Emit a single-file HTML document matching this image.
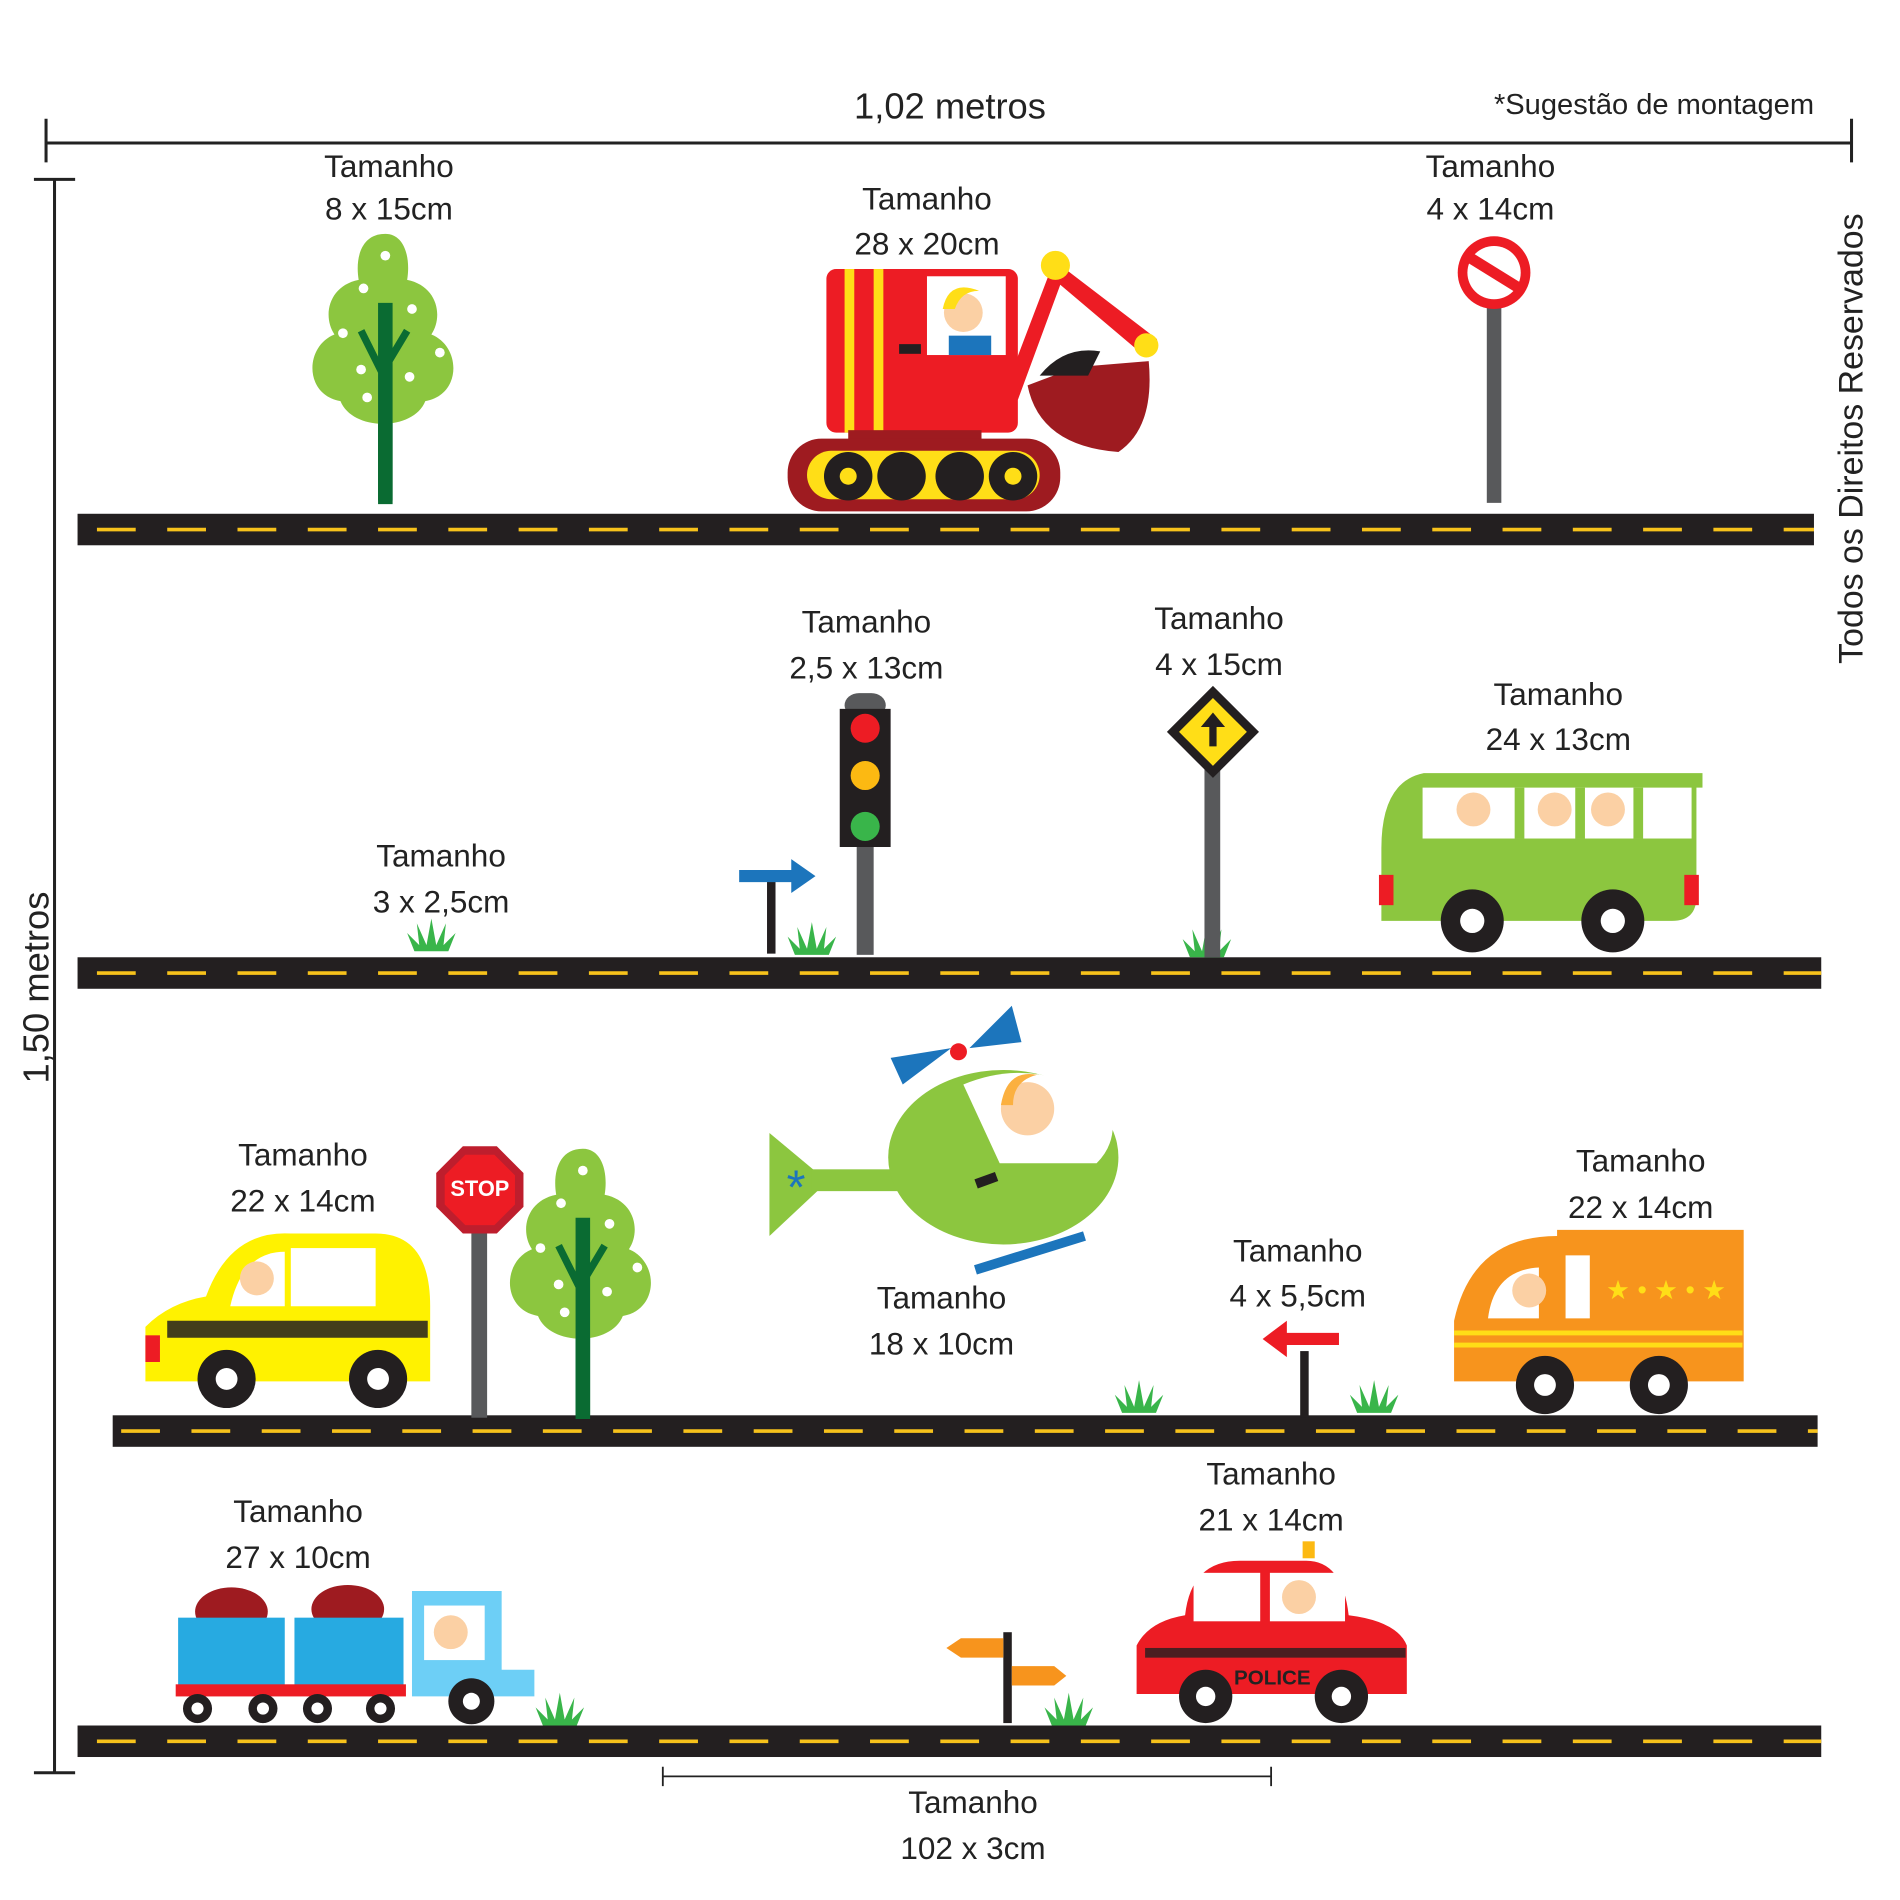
<!DOCTYPE html>
<html><head><meta charset="utf-8"><style>html,body{margin:0;padding:0;background:#fff}svg{display:block}text{font-family:"Liberation Sans",sans-serif;fill:#222}</style></head><body>
<svg width="1900" height="1900" viewBox="0 0 1568 1568" xmlns="http://www.w3.org/2000/svg">
<defs>
<g id="tree"><rect x="-6" y="60" width="12" height="160" fill="#0a6b32"/><path d="M0 0c-20 0-25 20-22 38c-25 5-30 30-20 45c-25 10-25 50 5 55c10 25 60 25 70 0c30-5 30-45 5-55c10-15 5-40-20-45c3-18-2-38-18-38z" fill="#8cc63f"/><path d="M-3 60v160h6v-160z M0 120l-20-40 M0 110l18-30" stroke="#0a6b32" stroke-width="6" fill="none"/><g fill="#fff"><circle cx="0" cy="18" r="4"/><circle cx="-18" cy="45" r="4"/><circle cx="22" cy="62" r="4"/><circle cx="-35" cy="82" r="4"/><circle cx="45" cy="98" r="4"/><circle cx="-20" cy="112" r="4"/><circle cx="20" cy="118" r="4"/><circle cx="-15" cy="135" r="4"/></g></g>
<g id="grass"><path d="M-18 0l-6-15l10 10l-2-18l8 18l4-22l4 22l8-18l-2 18l10-10l-6 15z" fill="#39b54a"/></g>
</defs>
<g stroke="#222" stroke-width="2.5" fill="none">
<path d="M38 118H1528M38 98V134M1528 98V134"/>
<path d="M45 148V1463M28 148H62M28 1463H62"/>
<path d="M547 1466H1049M547 1458V1474M1049 1458V1474" stroke-width="1.5"/>
</g>
<text x="784" y="98" font-size="30" text-anchor="middle">1,02 metros</text>
<text x="1365" y="94" font-size="24" text-anchor="middle">*Sugestão de montagem</text>
<text transform="translate(40 815) rotate(-90)" font-size="30" text-anchor="middle">1,50 metros</text>
<text transform="translate(1537 362) rotate(-90)" font-size="28" text-anchor="middle">Todos os Direitos Reservados</text>
<g>
<rect x="64" y="424" width="1433" height="26" fill="#231f20"/>
<rect x="64" y="790" width="1439" height="26" fill="#231f20"/>
<rect x="93" y="1168" width="1407" height="26" fill="#231f20"/>
<rect x="64" y="1424" width="1439" height="26" fill="#231f20"/>
<g stroke="#f7c21b" stroke-width="3" stroke-dasharray="32 26">
<path d="M80 437H1497"/><path d="M80 803H1503"/><path d="M100 1181H1500"/><path d="M80 1437H1503"/>
</g></g>
<g font-size="26" text-anchor="middle">
<text x="321" y="146">Tamanho</text><text x="321" y="181">8 x 15cm</text>
<text x="765" y="173">Tamanho</text><text x="765" y="210">28 x 20cm</text>
<text x="1230" y="146">Tamanho</text><text x="1230" y="181">4 x 14cm</text>
<text x="715" y="522">Tamanho</text><text x="715" y="560">2,5 x 13cm</text>
<text x="1006" y="519">Tamanho</text><text x="1006" y="557">4 x 15cm</text>
<text x="1286" y="582">Tamanho</text><text x="1286" y="619">24 x 13cm</text>
<text x="364" y="715">Tamanho</text><text x="364" y="753">3 x 2,5cm</text>
<text x="250" y="962">Tamanho</text><text x="250" y="1000">22 x 14cm</text>
<text x="1354" y="967">Tamanho</text><text x="1354" y="1005">22 x 14cm</text>
<text x="1071" y="1041">Tamanho</text><text x="1071" y="1078">4 x 5,5cm</text>
<text x="777" y="1080">Tamanho</text><text x="777" y="1118">18 x 10cm</text>
<text x="246" y="1256">Tamanho</text><text x="246" y="1294">27 x 10cm</text>
<text x="1049" y="1225">Tamanho</text><text x="1049" y="1263">21 x 14cm</text>
<text x="803" y="1496">Tamanho</text><text x="803" y="1534">102 x 3cm</text>
</g>
<use href="#tree" x="318" y="193"/>
<g>
<path d="M830 320L870 215L955 280L940 290L875 235L840 330z" fill="#ed1c24"/>
<path d="M848 318q10 50 75 55q30-20 25-75l-60 5z" fill="#9e1b20"/>
<path d="M858 310q20-25 50-20l-10 20z" fill="#231f20"/>
<circle cx="871" cy="219" r="12" fill="#ffde17"/><circle cx="946" cy="285" r="10" fill="#ffde17"/>
<rect x="682" y="222" width="158" height="135" rx="8" fill="#ed1c24"/>
<rect x="697" y="222" width="8" height="135" fill="#ffde17"/><rect x="721" y="222" width="8" height="135" fill="#ffde17"/>
<rect x="765" y="228" width="65" height="65" fill="#fff"/>
<circle cx="795" cy="258" r="16" fill="#fbd0a4"/><path d="M778 255q5-25 30-15q-15 0-20 15z" fill="#ffde17"/><rect x="783" y="277" width="35" height="16" fill="#1c75bc"/>
<rect x="742" y="284" width="18" height="8" fill="#231f20"/>
<rect x="700" y="355" width="110" height="12" fill="#9e1b20"/>
<rect x="650" y="362" width="225" height="60" rx="28" fill="#9e1b20"/>
<rect x="666" y="372" width="192" height="40" rx="20" fill="#ffde17"/>
<g fill="#231f20"><circle cx="700" cy="393" r="20"/><circle cx="744" cy="393" r="20"/><circle cx="792" cy="393" r="20"/><circle cx="836" cy="393" r="20"/></g>
<circle cx="700" cy="393" r="7" fill="#ffde17"/><circle cx="836" cy="393" r="7" fill="#ffde17"/>
</g>
<rect x="1227" y="245" width="12" height="170" fill="#58595b"/>
<circle cx="1233" cy="225" r="30" fill="#ed1c24"/><circle cx="1233" cy="225" r="22" fill="#fff"/>
<path d="M1212 212L1254 238" stroke="#ed1c24" stroke-width="9"/>
<rect x="707" y="690" width="14" height="98" fill="#58595b"/>
<rect x="697" y="572" width="34" height="20" rx="12" fill="#58595b"/>
<rect x="693" y="585" width="42" height="114" fill="#231f20"/>
<circle cx="714" cy="601" r="12" fill="#ed1c24"/><circle cx="714" cy="640" r="12" fill="#fcb912"/><circle cx="714" cy="682" r="12" fill="#39b54a"/>
<rect x="633" y="725" width="7" height="62" fill="#231f20"/>
<path d="M610 718h43v-9l20 14l-20 14v-9h-43z" fill="#1c75bc"/>
<use href="#grass" x="674" y="788"/><use href="#grass" x="360" y="785"/><use href="#grass" x="1000" y="790"/>
<rect x="994" y="630" width="13" height="160" fill="#58595b"/>
<path d="M1001 566l38 38l-38 38l-38-38z" fill="#231f20"/><path d="M1001 576l28 28l-28 28l-28-28z" fill="#ffde17"/>
<path d="M1001 588l-10 12h7v16h6v-16h7z" fill="#231f20"/>
<path d="M1140 700q0-55 35-62h230v12h-5v90q0 20-20 20h-240z" fill="#8cc63f"/>
<rect x="1174" y="650" width="222" height="42" fill="#fff"/>
<g fill="#8cc63f"><rect x="1250" y="650" width="8" height="42"/><rect x="1300" y="650" width="8" height="42"/><rect x="1348" y="650" width="8" height="42"/></g>
<circle cx="1216" cy="668" r="14" fill="#fbd0a4"/><circle cx="1283" cy="668" r="14" fill="#fbd0a4"/><circle cx="1327" cy="668" r="14" fill="#fbd0a4"/>
<rect x="1138" y="722" width="12" height="25" fill="#ed1c24"/><rect x="1390" y="722" width="12" height="25" fill="#ed1c24"/>
<circle cx="1215" cy="760" r="26" fill="#231f20"/><circle cx="1215" cy="760" r="10" fill="#fff"/>
<circle cx="1331" cy="760" r="26" fill="#231f20"/><circle cx="1331" cy="760" r="10" fill="#fff"/>
<path d="M120 1140v-45q20-20 50-25q20-55 70-52h70q45 0 45 60v62z" fill="#fff200"/>
<path d="M190 1078q10-45 45-45v45z" fill="#fff"/><rect x="240" y="1030" width="70" height="48" fill="#fff"/>
<circle cx="212" cy="1055" r="14" fill="#fbd0a4"/>
<path d="M138 1090h215v14h-215z" fill="#231f20" opacity=".85"/>
<rect x="120" y="1102" width="12" height="22" fill="#ed1c24"/>
<circle cx="187" cy="1138" r="24" fill="#231f20"/><circle cx="187" cy="1138" r="9" fill="#fff"/>
<circle cx="312" cy="1138" r="24" fill="#231f20"/><circle cx="312" cy="1138" r="9" fill="#fff"/>
<rect x="389" y="1005" width="13" height="165" fill="#58595b"/>
<path d="M382 946h28l22 22v28l-22 22h-28l-22-22v-28z" fill="#be1e2d"/>
<path d="M384 953h24l17 17v24l-17 17h-24l-17-17v-24z" fill="#ed1c24"/>
<text x="396" y="987" font-size="18" font-weight="bold" text-anchor="middle" style="fill:#fff">STOP</text>
<use href="#tree" x="481" y="948"/>
<path d="M635 935l48 40l-48 45z" fill="#8cc63f"/><rect x="670" y="965" width="80" height="18" fill="#8cc63f"/>
<text x="657" y="993" font-size="40" style="fill:#1c75bc" text-anchor="middle">*</text>
<ellipse cx="828" cy="955" rx="95" ry="72" fill="#8cc63f"/>
<path d="M795 895q60-25 120 15q10 30-10 50h-80z" fill="#fff"/>
<circle cx="848" cy="915" r="22" fill="#fbd0a4"/><path d="M826 912q5-30 30-25q-20 5-20 25z" fill="#fbb040"/>
<path d="M735 873l50-8l-40 30z M800 865l35-35l8 30z" fill="#1c75bc"/><circle cx="791" cy="868" r="7" fill="#ed1c24"/>
<rect x="805" y="970" width="18" height="8" fill="#231f20" transform="rotate(-20 814 974)"/>
<path d="M805 1048l90-28" stroke="#1c75bc" stroke-width="8"/>
<rect x="1073" y="1115" width="7" height="55" fill="#231f20"/>
<path d="M1105 1100h-43v-10l-20 15l20 15v-10h43z" fill="#ed1c24"/>
<use href="#grass" x="944" y="1166"/><use href="#grass" x="1138" y="1166"/>
<path d="M1200 1140v-50q15-70 85-70v-5h154v125q0 0-10 0z" fill="#f7941d"/>
<path d="M1228 1088q5-40 42-42v42z" fill="#fff"/><rect x="1292" y="1036" width="20" height="52" fill="#fff"/>
<circle cx="1262" cy="1065" r="14" fill="#fbd0a4"/>
<path d="M1200 1100h238M1200 1110h238" stroke="#ffde17" stroke-width="4"/>
<text x="1375" y="1072" font-size="22" style="fill:#ffde17" text-anchor="middle">★ • ★ • ★</text>
<circle cx="1275" cy="1143" r="24" fill="#231f20"/><circle cx="1275" cy="1143" r="9" fill="#fff"/>
<circle cx="1369" cy="1143" r="24" fill="#231f20"/><circle cx="1369" cy="1143" r="9" fill="#fff"/>
<g>
<ellipse cx="191" cy="1330" rx="30" ry="20" fill="#9e1b20"/><ellipse cx="287" cy="1328" rx="30" ry="20" fill="#9e1b20"/>
<rect x="147" y="1335" width="88" height="58" fill="#27aae1"/><rect x="243" y="1335" width="90" height="58" fill="#27aae1"/>
<rect x="145" y="1390" width="190" height="10" fill="#ed1c24"/>
<path d="M340 1400v-87h74v65h27v22z" fill="#6dcff6"/>
<rect x="350" y="1325" width="50" height="45" fill="#fff"/><circle cx="372" cy="1347" r="14" fill="#fbd0a4"/>
<g fill="#231f20"><circle cx="163" cy="1410" r="12"/><circle cx="217" cy="1410" r="12"/><circle cx="262" cy="1410" r="12"/><circle cx="314" cy="1410" r="12"/><circle cx="389" cy="1404" r="19"/></g>
<g fill="#fff"><circle cx="163" cy="1410" r="5"/><circle cx="217" cy="1410" r="5"/><circle cx="262" cy="1410" r="5"/><circle cx="314" cy="1410" r="5"/><circle cx="389" cy="1404" r="7"/></g>
</g>
<use href="#grass" x="466" y="1424"/><use href="#grass" x="886" y="1424"/>
<rect x="828" y="1347" width="7" height="75" fill="#231f20"/>
<path d="M828 1352h-35l-12 8l12 8h35z M835 1375h35l10 8l-10 8h-35z" fill="#f7941d"/>
<path d="M938 1398v-40q10-20 40-25q5-45 45-45h55q30 0 35 45q40 5 48 25v40z" fill="#ed1c24"/>
<rect x="985" y="1298" width="55" height="40" fill="#fff"/><rect x="1048" y="1298" width="62" height="40" fill="#fff"/>
<circle cx="1072" cy="1318" r="14" fill="#fbd0a4"/><rect x="1075" y="1272" width="10" height="14" fill="#fcb912"/>
<rect x="945" y="1360" width="215" height="8" fill="#231f20" opacity=".8"/>
<text x="1050" y="1390" font-size="17" font-weight="bold" text-anchor="middle">POLICE</text>
<circle cx="995" cy="1400" r="22" fill="#231f20"/><circle cx="995" cy="1400" r="8" fill="#fff"/>
<circle cx="1107" cy="1400" r="22" fill="#231f20"/><circle cx="1107" cy="1400" r="8" fill="#fff"/>
</svg>
</body></html>
